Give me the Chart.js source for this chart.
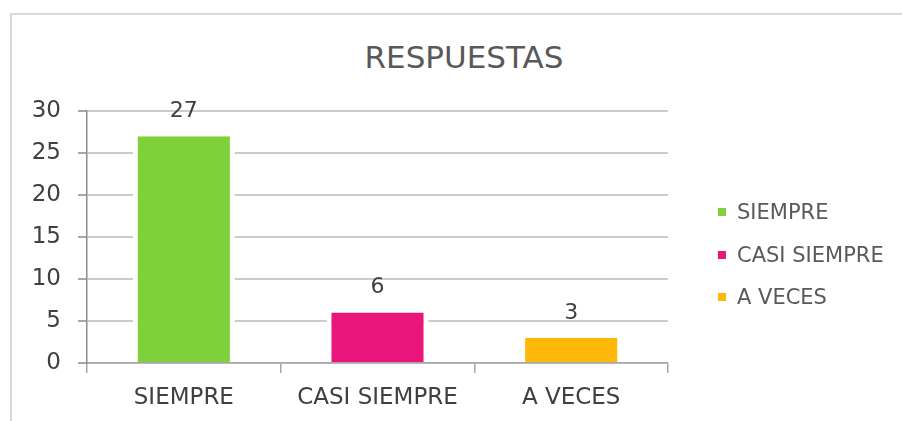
<!DOCTYPE html>
<html lang="es">
<head>
  <meta charset="UTF-8">
  <title>RESPUESTAS</title>
  <script src="https://cdn.jsdelivr.net/npm/chart.js"></script>
  <style>
    body { margin: 0; background: #fff; font-family: "DejaVu Sans", sans-serif; }
    .wrap { position: relative; width: 902px; height: 421px; overflow: hidden; }
    .frame { position: absolute; left: 10px; top: 13px; width: 1000px; height: 500px;
             border-left: 2px solid #d9d9d9; border-top: 2px solid #d9d9d9; }
    #title { position: absolute; left: 264px; width: 400px; top: 39px; line-height: 36px;
             text-align: center; font-size: 31px; color: #595959; }
    #legend { position: absolute; left: 718px; top: 191px; font-size: 21px; color: #595959; }
    #legend div { display: flex; align-items: center; height: 42.5px; white-space: nowrap; }
    #legend span.box { width: 8px; height: 8px; margin-right: 11px; }
    canvas { position: absolute; left: 0; top: 0; }
  </style>
</head>
<body>
  <div class="wrap">
    <div class="frame"></div>
    <div id="title">RESPUESTAS</div>
    <canvas id="chart" width="902" height="421"></canvas>
    <div id="legend"></div>
  </div>

  <script>
    const categories = ["SIEMPRE", "CASI SIEMPRE", "A VECES"];
    const values = [27, 6, 3];
    const colors = ["#7fd13b", "#ea157a", "#feb80a"];
    const yMin = 0, yMax = 30, yStep = 5;

    // legend in html, one row per category
    document.getElementById('legend').innerHTML = categories
      .map((c, i) => `<div><span class="box" style="background:${colors[i]}"></span>${c}</div>`)
      .join('');

    const valueLabels = {
      id: 'valueLabels',
      afterDatasetsDraw(chart) {
        const ctx = chart.ctx;
        ctx.save();
        ctx.font = '22px "DejaVu Sans"';
        ctx.fillStyle = '#404040';
        ctx.textAlign = 'center';
        ctx.textBaseline = 'middle';
        chart.getDatasetMeta(0).data.forEach((bar, i) => {
          ctx.fillText(values[i], bar.x, bar.y - 25);
        });
        ctx.restore();
      }
    };

    new Chart(document.getElementById('chart'), {
      type: 'bar',
      data: {
        labels: categories,
        datasets: [{
          data: values,
          backgroundColor: colors,
          borderColor: '#ffffff',
          borderWidth: { left: 5, right: 5, top: 0, bottom: 0 },
          categoryPercentage: 1,
          barPercentage: 0.527
        }]
      },
      options: {
        responsive: false,
        devicePixelRatio: 1,
        animation: false,
        layout: { padding: { left: 0, right: 234, top: 111, bottom: 0 } },
        plugins: {
          legend: { display: false },
          title: { display: false },
          tooltip: { enabled: false }
        },
        scales: {
          x: {
            grid: { drawOnChartArea: false, tickLength: 10, tickColor: '#a6a6a6', lineWidth: 1.5 },
            border: { color: '#a6a6a6', width: 1.5 },
            ticks: { color: '#404040', font: { family: 'DejaVu Sans', size: 23 }, padding: 11, maxRotation: 0 },
            afterFit(scale) { scale.height = 58; }
          },
          y: {
            min: yMin,
            max: yMax,
            grid: { color: '#cccccc', lineWidth: 2, tickLength: 9, tickColor: '#a6a6a6' },
            border: { color: '#8c8c8c', width: 1.5 },
            ticks: { stepSize: yStep, color: '#404040', font: { family: 'DejaVu Sans', size: 23 }, padding: 17 },
            afterFit(scale) { scale.width = 87; }
          }
        }
      },
      plugins: [valueLabels]
    });
  </script>
</body>
</html>
